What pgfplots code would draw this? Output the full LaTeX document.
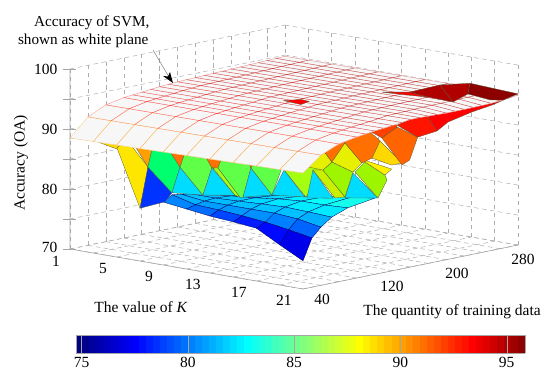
\documentclass[border=0pt]{standalone}
\usepackage{pgfplots}
\usepackage{pgfplotstable}
\usepackage{fontspec}
\setmainfont{Liberation Serif}
\pgfplotsset{compat=1.18}
\definecolor{edgec}{HTML}{5A5A3C}
\definecolor{cyanA}{HTML}{00DCFF}
\definecolor{blueA}{HTML}{0033FF}
\definecolor{greenA}{HTML}{00FF6E}
\definecolor{limeA}{HTML}{60FF48}
\definecolor{limeB}{HTML}{A4FF10}
\definecolor{limeC}{HTML}{C8F000}
\definecolor{limeD}{HTML}{9EF500}
\definecolor{yelA}{HTML}{FFE600}
\definecolor{yelB}{HTML}{E6F000}
\definecolor{yelC}{HTML}{FFF000}
\definecolor{yelD}{HTML}{FFD800}
\definecolor{orgA}{HTML}{FFA000}
\definecolor{orgB}{HTML}{FF7000}
\definecolor{orgC}{HTML}{FF6400}
\definecolor{orgD}{HTML}{FF4000}
\definecolor{redA}{HTML}{FF1400}
\definecolor{redB}{HTML}{FF0000}
\definecolor{redC}{HTML}{E00000}
\definecolor{darkA}{HTML}{B00000}
\definecolor{darkB}{HTML}{8C0000}
\definecolor{planec}{HTML}{F7F7F7}
\pgfplotsset{colormap={myjet}{rgb255(0cm)=(0,0,128); rgb255(1cm)=(0,0,255); rgb255(3cm)=(0,255,255); rgb255(5cm)=(255,255,0); rgb255(7cm)=(255,0,0); rgb255(8cm)=(128,0,0)}}
\pgfplotsset{colormap={planewhite}{color(0cm)=(planec); color(1cm)=(planec)}}
\newcommand\facet[2]{\addplot3[fill=#1,draw=edgec,line width=.3pt,no marks,forget plot] coordinates {#2} --cycle;}
\pgfplotstableread[row sep=\\]{K N z c\\
9 120 79.4 80.4\\ 11 120 79.9 80.9\\ 13 120 80.6 81.6\\ 15 120 81.1 82.1\\ 17 120 81.7 82.7\\ 19 120 82.2 83.2\\ 21 120 82.7 83.7\\
9 90 80.3 81.1\\ 11 90 80.65 81.45\\ 13 90 81 81.8\\ 15 90 81.5 82.3\\ 17 90 81.8 82.6\\ 19 90 81.8 82.6\\ 21 90 82 82.8\\
9 72 80.85 81.45\\ 11 72 80.85 81.45\\ 13 72 81 81.6\\ 15 72 81.2 81.8\\ 17 72 81.35 81.95\\ 19 72 81.2 81.8\\ 21 72 81 81.6\\
9 60 81.2 81.5\\ 11 60 80.7 81\\ 13 60 80.7 81\\ 15 60 80.7 81\\ 17 60 80.7 81\\ 19 60 80.4 80.7\\ 21 60 79.7 80\\
9 50 81.4 81.4\\ 11 50 80.4 80.4\\ 13 50 80.2 80.2\\ 15 50 79.9 79.9\\ 17 50 79.5 79.5\\ 19 50 78.9 78.9\\ 21 50 78.2 78.2\\
9 40 80.5 79.7\\ 11 40 80 79.2\\ 13 40 79.5 78.7\\ 15 40 79.2 76.4\\ 17 40 78.8 76\\ 19 40 76.7 75.9\\ 21 40 74.7 73.9\\
}\lowtable
\pgfplotstableread[row sep=\\]{K N z\\
1 280 94.80\\ 3 280 94.82\\ 5 280 94.84\\ 7 280 94.86\\ 9 280 94.88\\ 11 280 94.90\\ 13 280 94.92\\ 15 280 94.94\\ 17 280 94.96\\ 19 280 94.98\\ 21 280 95.00\\
1 270 94.75\\ 3 270 94.77\\ 5 270 94.79\\ 7 270 94.82\\ 9 270 94.84\\ 11 270 94.86\\ 13 270 94.88\\ 15 270 94.90\\ 17 270 94.93\\ 19 270 94.95\\ 21 270 94.80\\
1 260 94.70\\ 3 260 94.72\\ 5 260 94.75\\ 7 260 94.77\\ 9 260 94.80\\ 11 260 94.82\\ 13 260 94.85\\ 15 260 94.87\\ 17 260 94.90\\ 19 260 94.92\\ 21 260 94.65\\
1 250 94.65\\ 3 250 94.68\\ 5 250 94.70\\ 7 250 94.73\\ 9 250 94.76\\ 11 250 94.78\\ 13 250 94.81\\ 15 250 94.84\\ 17 250 94.87\\ 19 250 94.89\\ 21 250 94.55\\
1 240 94.60\\ 3 240 94.63\\ 5 240 94.66\\ 7 240 94.69\\ 9 240 94.72\\ 11 240 94.75\\ 13 240 94.78\\ 15 240 94.81\\ 17 240 94.84\\ 19 240 94.87\\ 21 240 94.50\\
1 230 94.55\\ 3 230 94.58\\ 5 230 94.61\\ 7 230 94.65\\ 9 230 94.68\\ 11 230 94.71\\ 13 230 94.74\\ 15 230 94.77\\ 17 230 94.81\\ 19 230 94.84\\ 21 230 94.48\\
1 220 94.50\\ 3 220 94.53\\ 5 220 94.57\\ 7 220 94.60\\ 9 220 94.63\\ 11 220 94.67\\ 13 220 94.70\\ 15 220 94.73\\ 17 220 94.76\\ 19 220 94.80\\ 21 220 94.45\\
1 210 94.45\\ 3 210 94.49\\ 5 210 94.52\\ 7 210 94.56\\ 9 210 94.60\\ 11 210 94.64\\ 13 210 94.67\\ 15 210 94.71\\ 17 210 94.75\\ 19 210 94.78\\ 21 210 94.45\\
1 200 94.40\\ 3 200 94.44\\ 5 200 94.48\\ 7 200 94.52\\ 9 200 94.56\\ 11 200 94.60\\ 13 200 94.64\\ 15 200 94.68\\ 17 200 94.72\\ 19 200 94.76\\ 21 200 94.45\\
1 190 94.35\\ 3 190 94.39\\ 5 190 94.43\\ 7 190 94.47\\ 9 190 94.51\\ 11 190 94.55\\ 13 190 94.59\\ 15 190 94.63\\ 17 190 94.67\\ 19 190 94.71\\ 21 190 94.50\\
1 180 94.30\\ 3 180 94.34\\ 5 180 94.38\\ 7 180 94.42\\ 9 180 94.46\\ 11 180 94.50\\ 13 180 94.54\\ 15 180 94.58\\ 17 180 94.62\\ 19 180 94.66\\ 21 180 94.55\\
1 170 94.25\\ 3 170 94.29\\ 5 170 94.33\\ 7 170 94.37\\ 9 170 94.41\\ 11 170 94.45\\ 13 170 94.49\\ 15 170 94.53\\ 17 170 94.57\\ 19 170 94.61\\ 21 170 94.60\\
1 160 94.20\\ 3 160 94.24\\ 5 160 94.28\\ 7 160 94.32\\ 9 160 94.36\\ 11 160 94.40\\ 13 160 94.44\\ 15 160 94.48\\ 17 160 94.52\\ 19 160 94.56\\ 21 160 94.60\\
1 150 94.10\\ 3 150 94.13\\ 5 150 94.16\\ 7 150 94.19\\ 9 150 94.22\\ 11 150 94.25\\ 13 150 94.28\\ 15 150 94.31\\ 17 150 94.34\\ 19 150 94.37\\ 21 150 94.40\\
1 140 94.00\\ 3 140 94.02\\ 5 140 94.04\\ 7 140 94.06\\ 9 140 94.08\\ 11 140 94.10\\ 13 140 94.12\\ 15 140 94.14\\ 17 140 94.16\\ 19 140 94.18\\ 21 140 94.20\\
1 130 93.85\\ 3 130 93.87\\ 5 130 93.89\\ 7 130 93.91\\ 9 130 93.93\\ 11 130 93.95\\ 13 130 93.97\\ 15 130 93.99\\ 17 130 94.01\\ 19 130 94.03\\ 21 130 94.05\\
1 120 93.70\\ 3 120 93.72\\ 5 120 93.74\\ 7 120 93.76\\ 9 120 93.78\\ 11 120 93.80\\ 13 120 93.82\\ 15 120 93.84\\ 17 120 93.86\\ 19 120 93.88\\ 21 120 93.90\\
1 110 93.55\\ 3 110 93.57\\ 5 110 93.58\\ 7 110 93.60\\ 9 110 93.61\\ 11 110 93.63\\ 13 110 93.64\\ 15 110 93.66\\ 17 110 93.67\\ 19 110 93.69\\ 21 110 93.70\\
1 100 93.40\\ 3 100 93.41\\ 5 100 93.42\\ 7 100 93.43\\ 9 100 93.44\\ 11 100 93.45\\ 13 100 93.46\\ 15 100 93.47\\ 17 100 93.48\\ 19 100 93.49\\ 21 100 93.50\\
1 80 92.80\\ 3 80 92.82\\ 5 80 92.83\\ 7 80 92.85\\ 9 80 92.86\\ 11 80 92.88\\ 13 80 92.89\\ 15 80 92.91\\ 17 80 92.92\\ 19 80 92.94\\ 21 80 92.95\\
1 60 91.40\\ 3 60 91.43\\ 5 60 91.46\\ 7 60 91.49\\ 9 60 91.52\\ 11 60 91.55\\ 13 60 91.58\\ 15 60 91.61\\ 17 60 91.64\\ 19 60 91.67\\ 21 60 91.70\\
1 40 88.50\\ 3 40 88.58\\ 5 40 88.67\\ 7 40 88.75\\ 9 40 88.83\\ 11 40 88.92\\ 13 40 89.00\\ 15 40 89.08\\ 17 40 89.17\\ 19 40 89.25\\ 21 40 89.33\\
}\planetable
\pgfplotstableread[row sep=\\]{v y\\
74.74 0\\ 75.07 0\\ 75.40 0\\ 75.73 0\\ 76.06 0\\ 76.39 0\\ 76.72 0\\ 77.05 0\\ 77.38 0\\ 77.71 0\\ 78.04 0\\ 78.37 0\\ 78.70 0\\ 79.03 0\\ 79.36 0\\ 79.69 0\\ 80.02 0\\ 80.35 0\\ 80.68 0\\ 81.01 0\\ 81.34 0\\ 81.67 0\\ 82.00 0\\ 82.33 0\\ 82.66 0\\ 82.99 0\\ 83.32 0\\ 83.65 0\\ 83.98 0\\ 84.31 0\\ 84.64 0\\ 84.97 0\\ 85.30 0\\ 85.63 0\\ 85.96 0\\ 86.29 0\\ 86.62 0\\ 86.95 0\\ 87.28 0\\ 87.61 0\\ 87.94 0\\ 88.27 0\\ 88.60 0\\ 88.93 0\\ 89.26 0\\ 89.59 0\\ 89.92 0\\ 90.25 0\\ 90.58 0\\ 90.91 0\\ 91.24 0\\ 91.57 0\\ 91.90 0\\ 92.23 0\\ 92.56 0\\ 92.89 0\\ 93.22 0\\ 93.55 0\\ 93.88 0\\ 94.21 0\\ 94.54 0\\ 94.87 0\\ 95.20 0\\ 95.53 0\\ 95.86 0\\
74.74 1\\ 75.07 1\\ 75.40 1\\ 75.73 1\\ 76.06 1\\ 76.39 1\\ 76.72 1\\ 77.05 1\\ 77.38 1\\ 77.71 1\\ 78.04 1\\ 78.37 1\\ 78.70 1\\ 79.03 1\\ 79.36 1\\ 79.69 1\\ 80.02 1\\ 80.35 1\\ 80.68 1\\ 81.01 1\\ 81.34 1\\ 81.67 1\\ 82.00 1\\ 82.33 1\\ 82.66 1\\ 82.99 1\\ 83.32 1\\ 83.65 1\\ 83.98 1\\ 84.31 1\\ 84.64 1\\ 84.97 1\\ 85.30 1\\ 85.63 1\\ 85.96 1\\ 86.29 1\\ 86.62 1\\ 86.95 1\\ 87.28 1\\ 87.61 1\\ 87.94 1\\ 88.27 1\\ 88.60 1\\ 88.93 1\\ 89.26 1\\ 89.59 1\\ 89.92 1\\ 90.25 1\\ 90.58 1\\ 90.91 1\\ 91.24 1\\ 91.57 1\\ 91.90 1\\ 92.23 1\\ 92.56 1\\ 92.89 1\\ 93.22 1\\ 93.55 1\\ 93.88 1\\ 94.21 1\\ 94.54 1\\ 94.87 1\\ 95.20 1\\ 95.53 1\\ 95.86 1\\
}\cbtable
\begin{document}
\begin{tikzpicture}
\begin{axis}[
  x={(11.65pt,-2pt)}, y={(0.896pt,0.183pt)}, z={(0pt,6pt)},
  xmin=1,xmax=21,ymin=40,ymax=280,zmin=70,zmax=100,
  clip=false,
  xtick={1,3,...,21}, ytick={40,60,...,280}, ztick={70,75,...,100},
  xticklabels={}, yticklabels={}, zticklabels={},
  grid=major,
  major grid style={black!32,line width=.5pt,dash pattern=on 4.5pt off 3.5pt},
  tick style={draw=none},
  axis line style={draw=none},
  colormap name=myjet,
  point meta min=74.74, point meta max=95.85,
]
\coordinate (A) at (axis cs:1,40,70);
% lower rows of the surface
\addplot3[surf,shader=faceted,faceted color=black!65!blue,line width=.3pt,z buffer=none,mesh/rows=6,point meta=explicit,forget plot]
  table[x=K,y=N,z=z,meta=c] {\lowtable};
% left ridge
\facet{yelD}{(1,40,88.5)(2.97,40,88.8)(3.58,40,90.7)}
\facet{yelD}{(2.97,40,88.8)(5.03,40,88)(5.72,40,90.6)(3.58,40,90.7)}
% spikes
\facet{yelA}{(5.03,40,88.2)(5.89,40,89.8)(1.54,120,81.4)(7.01,40,78.8)}
\facet{orgA}{(6.15,40,90.2)(1.97,120,85.2)(1.54,120,81.4)}
\facet{blueA}{(1.54,120,81.4)(7.01,40,78.8)(3,120,76.1)(3.6,120,77.8)}
\facet{greenA}{(1.97,120,85.2)(3.43,120,85.4)(4.29,120,82.3)(3.6,120,77.8)(1.54,120,81.4)}
\facet{orgB}{(3.17,120,85.3)(4.8,120,85.3)(4.29,120,82.3)}
\facet{cyanA}{(4.29,120,82.3)(6.26,120,78.3)(3.6,120,77.8)}
\facet{limeA}{(4.29,120,82.3)(4.8,120,85.3)(6.43,120,85)(7.03,120,83.1)(6.26,120,78.3)}
\facet{orgB}{(6.43,120,85)(7.89,120,85.2)(7.55,120,83.25)(7.03,120,83.1)}
\facet{cyanA}{(7.03,120,83.1)(9.01,120,79.2)(6.26,120,78.3)}
\facet{limeB}{(7.12,120,83.1)(7.55,120,83.25)(9.44,120,79)(9.01,120,79.2)}
\facet{limeA}{(7.89,120,85.2)(10.12,120,85.4)(10.38,120,84.2)(9.7,120,79.1)(9.44,120,79)(7.55,120,83.25)}
\facet{orgB}{(10.12,120,85.4)(10.81,120,85.5)(10.38,120,84.2)}
\facet{cyanA}{(10.38,120,84.2)(12.18,120,80.3)(9.7,120,79.1)}
\facet{limeA}{(10.81,120,85.5)(13.04,120,85.1)(12.18,120,80.3)(10.38,120,84.2)}
\facet{limeB}{(13.13,120,85.6)(15.36,120,86.35)(16.56,120,85.9)(15.1,120,80.9)(13.21,120,84.8)}
\facet{cyanA}{(13.21,120,84.8)(15.01,120,80.9)(12.18,120,80.3)}
\facet{cyanA}{(15.7,120,85.63)(17.42,120,81.5)(15.19,120,80.8)}
\facet{limeC}{(15.7,120,85.63)(16.56,120,85.9)(18.45,120,82.05)(17.59,120,81.6)}
\facet{limeD}{(16.56,120,85.9)(17.33,120,87.5)(19.14,120,86.43)(18.45,120,82.05)}
\facet{yelB}{(15.36,120,86)(16.56,120,89.25)(17.33,120,87.5)(16.56,120,85.9)}
\facet{orgB}{(16.56,120,89.25)(17.85,120,91.7)(18.45,120,91.05)(17.33,120,87.5)}
\facet{yelB}{(17.33,120,87.5)(18.45,120,91.05)(19.91,120,88.2)(19.14,120,86.43)}
\facet{cyanA}{(19.14,120,86.27)(21,123.7,82.6)(18.45,120,81.9)}
\facet{limeD}{(19.31,120,86.5)(20.17,120,88.45)(21,131.5,86.2)(21,133.7,85.3)(21,123.7,82.6)}
\facet{yelC}{(20.08,120,88.75)(21,139,86.97)(21,131.5,86.2)(20.17,120,88.45)}
\facet{orgB}{(18.45,120,91.05)(18.45,120,92.2)(20.43,120,93.87)(21,126,92.05)(20.77,120,89.3)(19.91,120,88.2)}
\facet{yelD}{(20.77,120,89.3)(21,126,92.05)(21,150.5,87.63)(21,139,87.63)}
\facet{orgC}{(21,128,92.5)(21,145,93.8)(21,168,91.4)(21,159,87.87)(21,150.5,87.3)}
\facet{orgD}{(20.43,120,93.87)(21,142.7,94.7)(21,145,93.8)(21,128,92.5)}
\facet{redA}{(21,145,94.1)(21,176,95.35)(21,189.5,91.77)(21,168,91.4)}
\facet{redB}{(21,176,95.35)(21,228.6,95.25)(21,228.6,93.75)(21,202,92.9)(21,189.5,91.77)}
\facet{redB}{(21,228.6,95.25)(21,251,95.07)(21,251,94.23)(21,228.6,93.75)}
\facet{redC}{(21,251,95.07)(21,280,95.2)(21,251,94.23)}
% SVM plane
\addplot3[surf,shader=flat,colormap name=planewhite,z buffer=none,mesh/rows=22,forget plot]
  table[x=K,y=N,z=z] {\planetable};
\addplot3[mesh,line width=.4pt,opacity=.42,z buffer=none,mesh/rows=22,forget plot]
  table[x=K,y=N,z=z] {\planetable};
% parts of the surface above the plane
\facet{redB}{(10.1,160,94.1)(11.6,160,94.8)(12.3,160,94.7)(11.6,160,93.95)}
\facet{redB}{(9.33,280,91.6)(11.73,280,92.4)(13.19,280,92.1)(11.3,280,91.8)}
\facet{darkA}{(11.73,280,92.4)(14.3,280,94.45)(15.42,280,92)(13.19,280,92.1)}
\facet{darkA}{(14.3,280,94.45)(16.88,280,95.6)(16.7,280,93.75)(15.42,280,92)}
\facet{darkB}{(16.88,280,95.6)(21,280,95.2)(19.71,280,93.75)(18.6,280,93.4)(16.7,280,93.75)}
\end{axis}
\path (A) ++(-70pt,249pt) coordinate (O);
\path (O) ++(76pt,-353pt) coordinate (CB);
\begin{axis}[
  at={(CB)},anchor=south west,scale only axis,width=449pt,height=18pt,
  view={0}{90},
  xmin=74.74,xmax=95.86,ymin=0,ymax=1,
  xtick={75,80,85,90,95},ytick=\empty,ztick=\empty,
  tick align=inside,xtick pos=both,
  major tick length=18pt,
  tick style={black!35,line width=.3pt},
  xticklabel pos=lower,
  xticklabel style={font=\fontsize{15.5}{17}\selectfont,yshift=-1pt},
  /pgf/number format/assume math mode=true,
  axis line style={black!35,line width=.5pt},
  colormap name=myjet,point meta min=74.74,point meta max=95.85,
  axis on top,
]
\addplot3[surf,shader=flat corner,mesh/rows=2,point meta=x] table[x=v,y=y,z=y] {\cbtable};
\end{axis}
\pgfresetboundingbox
\path[use as bounding box] (O) rectangle ++(550pt,-381pt);
\begin{scope}[shift={(O)},x=1pt,y=-1pt,font=\fontsize{15.5}{17}\selectfont]
  % axes frame
  \draw[black!35,line width=.6pt] (70,69) -- (70,249) -- (303,289) -- (518,245);
  \foreach \yy in {69,99,129,159,189,219,249} {\draw[black!35,line width=.6pt] (63,\yy) -- (76,\yy);}
  % tick labels
  \node[anchor=east] at (61,69) {100};
  \node[anchor=east] at (61,129) {90};
  \node[anchor=east] at (61,189) {80};
  \node[anchor=east] at (61,247) {70};
  \node at (56,261) {1};
  \node at (103,269) {5};
  \node at (149,276) {9};
  \node at (193,284) {13};
  \node at (239,292) {17};
  \node at (284,300) {21};
  \node at (322,299) {40};
  \node at (392,286) {120};
  \node at (457,273) {200};
  \node at (523,259) {280};
  % axis labels
  \node at (141,307) {The value of \textit{K}};
  \node at (452,312) {The quantity of training data};
  \node[rotate=90] at (21,163) {Accuracy (OA)};
  % annotation
  \node[font=\fontsize{15.2}{17}\selectfont,anchor=east] at (153,23) {Accuracy of SVM,};
  \node[font=\fontsize{15.2}{17}\selectfont,anchor=east] at (152,41) {shown as white plane};
  \draw[black!50,line width=.5pt] (153,50) -- (169,77);
  \fill[black] (173,83) -- (163,76) -- (168,76.5) -- (170,72) -- cycle;
\end{scope}
\end{tikzpicture}
\end{document}
